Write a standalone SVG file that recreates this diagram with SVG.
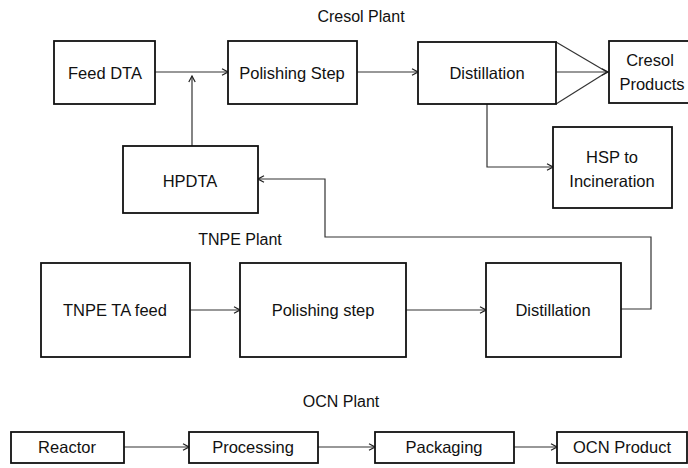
<svg xmlns="http://www.w3.org/2000/svg" width="688" height="468" viewBox="0 0 688 468">
  <style>
    .box { fill: #fff; stroke: #111; stroke-width: 1.8; }
    .lbl { font-family: "Liberation Sans", Arial, sans-serif; font-size: 16.5px; fill: #111; text-anchor: middle; }
    .title { font-family: "Liberation Sans", Arial, sans-serif; font-size: 16px; fill: #111; text-anchor: middle; }
    .con { fill: none; stroke: #333; stroke-width: 1.2; }
  </style>
  <defs>
    <marker id="arr" viewBox="0 0 8 8" refX="7" refY="4" markerWidth="8" markerHeight="8" markerUnits="userSpaceOnUse" orient="auto">
      <path d="M1,0.8 L7,4 L1,7.2" fill="none" stroke="#222" stroke-width="1.2"/>
    </marker>
  </defs>
  <rect width="688" height="468" fill="#fff"/>

  <text class="title" x="361" y="22">Cresol Plant</text>
  <text class="title" x="240" y="245">TNPE Plant</text>
  <text class="title" x="341" y="407">OCN Plant</text>

  <g id="connectors">
    <line class="con" x1="155" y1="72" x2="228" y2="72" marker-end="url(#arr)"/>
    <line class="con" x1="192" y1="146" x2="192" y2="76" marker-end="url(#arr)"/>
    <line class="con" x1="357" y1="72" x2="418" y2="72" marker-end="url(#arr)"/>
    <line class="con" x1="556" y1="42" x2="607" y2="72"/>
    <line class="con" x1="556" y1="104" x2="607" y2="72"/>
    <line class="con" x1="556" y1="72" x2="608" y2="72" marker-end="url(#arr)"/>
    <polyline class="con" points="487,104 487,167 553,167" marker-end="url(#arr)"/>
    <polyline class="con" points="621,309 651,309 651,237 325,237 325,179 258,179" marker-end="url(#arr)"/>
    <line class="con" x1="190" y1="310" x2="240" y2="310" marker-end="url(#arr)"/>
    <line class="con" x1="406" y1="310" x2="486" y2="310" marker-end="url(#arr)"/>
    <line class="con" x1="124" y1="447" x2="189" y2="447" marker-end="url(#arr)"/>
    <line class="con" x1="318" y1="447" x2="375" y2="447" marker-end="url(#arr)"/>
    <line class="con" x1="514" y1="447" x2="557" y2="447" marker-end="url(#arr)"/>
  </g>

  <g id="feed-dta">
    <rect class="box" x="54" y="41" width="101" height="63"/>
    <text class="lbl" x="105" y="79">Feed DTA</text>
  </g>
  <g id="polishing-step-cresol">
    <rect class="box" x="228" y="41" width="129" height="63"/>
    <text class="lbl" x="292" y="79">Polishing Step</text>
  </g>
  <g id="distillation-cresol">
    <rect class="box" x="418" y="42" width="138" height="62"/>
    <text class="lbl" x="487" y="79">Distillation</text>
  </g>
  <g id="cresol-products">
    <rect class="box" x="609" y="41" width="84" height="62"/>
    <text class="lbl" x="650" y="66">Cresol</text>
    <text class="lbl" x="652" y="90">Products</text>
  </g>
  <g id="hpdta">
    <rect class="box" x="123" y="146" width="135" height="67"/>
    <text class="lbl" x="190" y="187">HPDTA</text>
  </g>
  <g id="hsp-incineration">
    <rect class="box" x="553" y="127" width="119" height="81"/>
    <text class="lbl" x="612" y="163">HSP to</text>
    <text class="lbl" x="612" y="187">Incineration</text>
  </g>
  <g id="tnpe-ta-feed">
    <rect class="box" x="41" y="263" width="149" height="94"/>
    <text class="lbl" x="115" y="316">TNPE TA feed</text>
  </g>
  <g id="polishing-step-tnpe">
    <rect class="box" x="240" y="263" width="166" height="94"/>
    <text class="lbl" x="323" y="316">Polishing step</text>
  </g>
  <g id="distillation-tnpe">
    <rect class="box" x="486" y="263" width="135" height="94"/>
    <text class="lbl" x="553" y="316">Distillation</text>
  </g>
  <g id="reactor">
    <rect class="box" x="11" y="432" width="113" height="31"/>
    <text class="lbl" x="67" y="453">Reactor</text>
  </g>
  <g id="processing">
    <rect class="box" x="189" y="432" width="129" height="31"/>
    <text class="lbl" x="253" y="453">Processing</text>
  </g>
  <g id="packaging">
    <rect class="box" x="375" y="432" width="139" height="31"/>
    <text class="lbl" x="444" y="453">Packaging</text>
  </g>
  <g id="ocn-product">
    <rect class="box" x="557" y="432" width="130" height="31"/>
    <text class="lbl" x="622" y="453">OCN Product</text>
  </g>
</svg>
